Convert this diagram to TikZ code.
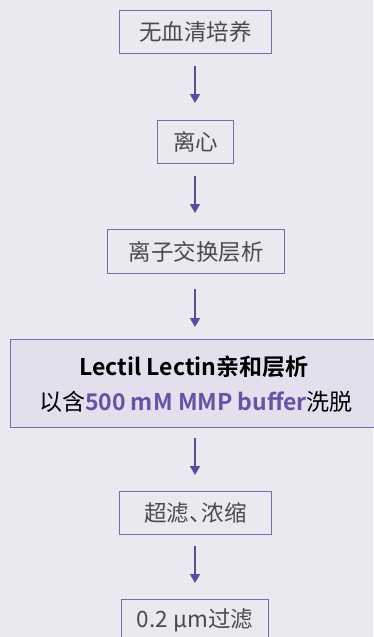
\documentclass[tikz,border=0pt]{standalone}
\usepackage{fontspec}
\setmainfont{Noto Sans CJK SC}[BoldFont={Noto Sans CJK SC Bold}]
\usetikzlibrary{arrows.meta}
\definecolor{bgc}{HTML}{EBE9F0}
\definecolor{bordc}{HTML}{7B68B2}
\definecolor{arrc}{HTML}{5E4A9C}
\definecolor{txtc}{HTML}{4A4A4A}
\definecolor{bigfill}{HTML}{E4DFEC}
\definecolor{hl}{HTML}{6553A3}
\tikzset{
  stepbox/.style={draw=bordc, line width=1pt, text=txtc, inner sep=0pt,
    font=\fontsize{22.5}{26}\selectfont, minimum height=43pt, anchor=north west},
  flow/.style={draw=arrc, line width=1.6pt, -{Triangle[length=9pt,width=10pt]}}
}
\begin{document}
\begin{tikzpicture}[x=1pt,y=-1pt]
\fill[bgc] (0,0) rectangle (373,637);
\useasboundingbox (0,0) rectangle (373,637);
\node[stepbox, minimum width=152pt] (b1) at (119,10) {无血清培养};
\node[stepbox, minimum width=76pt] (b2) at (157,120) {离心};
\node[stepbox, minimum width=177pt, minimum height=44pt] (b3) at (107,229) {离子交换层析};
\node[draw=bordc, fill=bigfill, line width=1pt, inner sep=0pt, anchor=north west,
      minimum width=375pt, minimum height=88pt] (b4) at (10,339) {};
\node[font=\fontsize{23}{26}\selectfont\bfseries, text=black] (t4a) at (194,367) {Lectil Lectin亲和层析};
\node[font=\fontsize{23}{26}\selectfont, text=black] (t4b) at (196,402) {以含\textbf{\textcolor{hl}{500 mM MMP buffer}}洗脱};
\node[stepbox, minimum width=152pt] (b5) at (119,491) {超滤、\kern-0.45em浓缩};
\node[stepbox, minimum width=147pt, minimum height=50pt, anchor=north west] (b6) at (121,599) {};
\node[text=txtc, font=\fontsize{22.5}{26}\selectfont] (t6) at (195,620) {0.2 μm过滤};
\draw[flow, shorten <=12pt, shorten >=17pt] (b1.south -| 195,0) -- (b2.north -| 195,0);
\draw[flow, shorten <=12pt, shorten >=16pt] (b2.south -| 195,0) -- (b3.north -| 195,0);
\draw[flow, shorten <=15pt, shorten >=12pt] (b3.south -| 195,0) -- (b4.north -| 195,0);
\draw[flow, shorten <=10pt, shorten >=16pt] (b4.south -| 195,0) -- (b5.north -| 195,0);
\draw[flow, shorten <=11pt, shorten >=16pt] (b5.south -| 195,0) -- (b6.north -| 195,0);
\end{tikzpicture}
\end{document}
